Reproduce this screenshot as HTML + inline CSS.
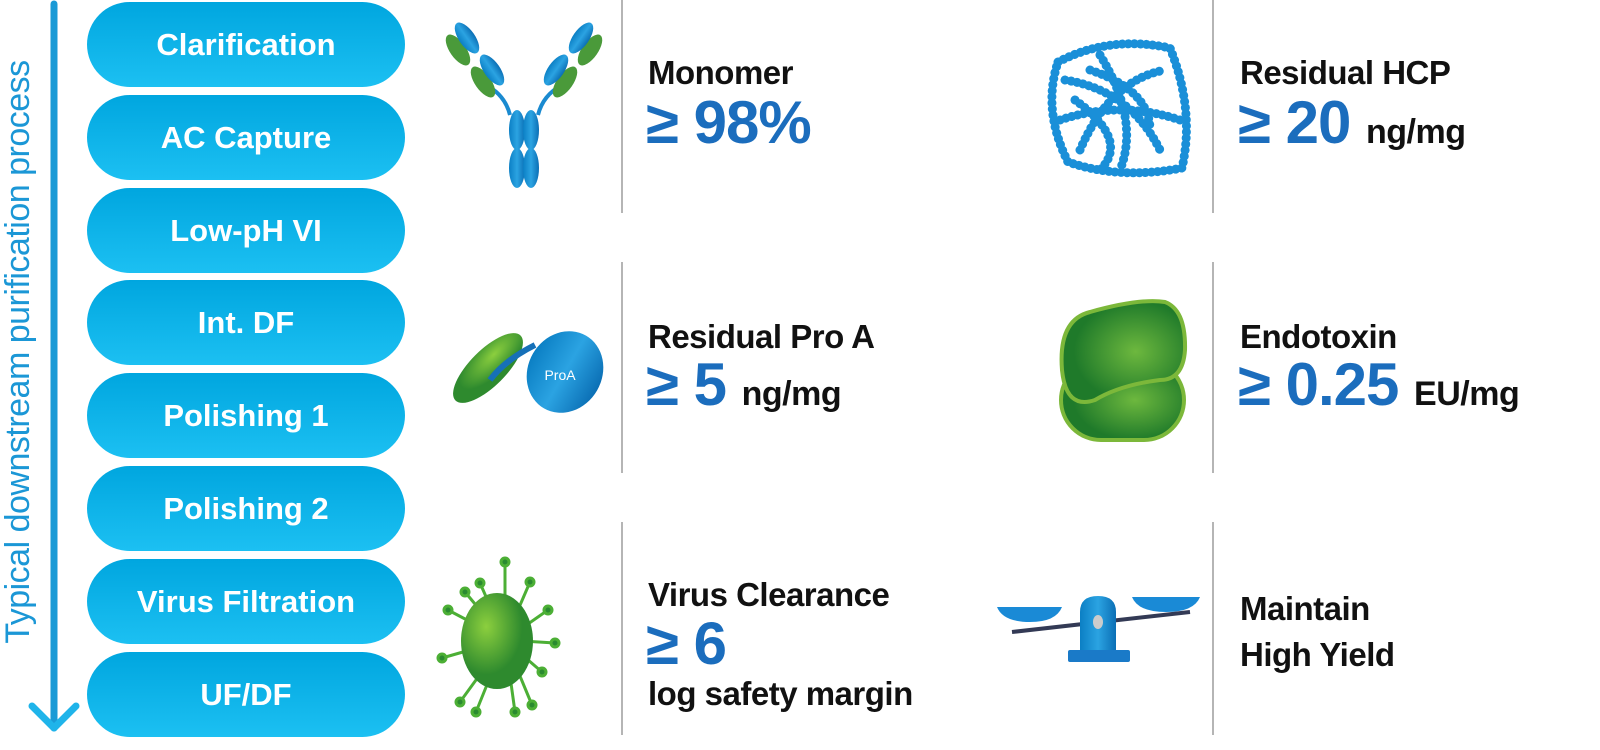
<!DOCTYPE html>
<html><head><meta charset="utf-8"><style>
body{margin:0;width:1600px;height:750px;background:#fff;position:relative;overflow:hidden;font-family:"Liberation Sans",sans-serif}
.pill{position:absolute;left:87px;width:318px;height:85px;border-radius:43px;background:linear-gradient(#00a6df,#1cc0f2);color:#fff;font-weight:bold;font-size:31px;text-align:center;line-height:85px}
.t{position:absolute;font-weight:bold;color:#111;white-space:nowrap;letter-spacing:-0.5px}
.h{font-size:33px}
.big{font-size:60px;color:#1b6dbd;letter-spacing:-1px}
.u{font-size:34px;color:#111;letter-spacing:-0.5px}
.div{position:absolute;width:2px;background:#b5b5b5}
</style></head><body>
<div style="position:absolute;left:-342px;top:330px;width:720px;height:44px;transform:rotate(-90deg);color:#1b97d6;font-size:34px;text-align:center;line-height:44px;white-space:nowrap;letter-spacing:-0.5px">Typical downstream purification process</div>
<svg style="position:absolute;left:0;top:0" width="90" height="750"><line x1="54" y1="4" x2="54" y2="728" stroke="#1a9ad6" stroke-width="7" stroke-linecap="round"/><polyline points="32,706 54,728 76,706" fill="none" stroke="#1fb4ea" stroke-width="7" stroke-linecap="round" stroke-linejoin="round"/></svg>
<div class="pill" style="top:2px">Clarification</div>
<div class="pill" style="top:95px">AC Capture</div>
<div class="pill" style="top:188px">Low-pH VI</div>
<div class="pill" style="top:280px">Int. DF</div>
<div class="pill" style="top:373px">Polishing 1</div>
<div class="pill" style="top:466px">Polishing 2</div>
<div class="pill" style="top:559px">Virus Filtration</div>
<div class="pill" style="top:652px">UF/DF</div>

<div class="div" style="left:621px;top:0;height:213px"></div>
<div class="div" style="left:621px;top:262px;height:211px"></div>
<div class="div" style="left:621px;top:522px;height:213px"></div>
<div class="div" style="left:1212px;top:0;height:213px"></div>
<div class="div" style="left:1212px;top:262px;height:211px"></div>
<div class="div" style="left:1212px;top:522px;height:213px"></div>

<div class="t h" style="left:648px;top:54px">Monomer</div>
<div class="t big" style="left:646px;top:88px">≥ 98%</div>
<div class="t h" style="left:648px;top:318px">Residual Pro A</div>
<div class="t big" style="left:646px;top:350px">≥ 5 <span class="u">ng/mg</span></div>
<div class="t h" style="left:648px;top:576px">Virus Clearance</div>
<div class="t big" style="left:646px;top:609px">≥ 6</div>
<div class="t h" style="left:648px;top:675px">log safety margin</div>
<div class="t h" style="left:1240px;top:54px">Residual HCP</div>
<div class="t big" style="left:1238px;top:88px">≥ 20 <span class="u">ng/mg</span></div>
<div class="t h" style="left:1240px;top:318px">Endotoxin</div>
<div class="t big" style="left:1238px;top:350px">≥ 0.25 <span class="u">EU/mg</span></div>
<div class="t h" style="left:1240px;top:590px">Maintain</div>
<div class="t h" style="left:1240px;top:636px">High Yield</div>

<svg style="position:absolute;left:0;top:0" width="1600" height="750">
<defs>
<linearGradient id="b" x1="0" x2="1"><stop offset="0" stop-color="#0b7fc4"/><stop offset=".5" stop-color="#2ba3e2"/><stop offset="1" stop-color="#0b6fb5"/></linearGradient>
<radialGradient id="g" cx=".35" cy=".35"><stop offset="0" stop-color="#8ccf3e"/><stop offset="1" stop-color="#2e8a2e"/></radialGradient>
<radialGradient id="e" cx=".6" cy=".5"><stop offset="0" stop-color="#6db83e"/><stop offset="1" stop-color="#1f7a2a"/></radialGradient>
</defs>
<!-- antibody -->
<path d="M486 85 Q505 95 510 115 M562 85 Q543 95 538 115" fill="none" stroke="#1a8ad0" stroke-width="4"/>
<g fill="#4a9a3a">
<ellipse cx="458" cy="50" rx="8" ry="18" transform="rotate(-35 458 50)"/>
<ellipse cx="483" cy="82" rx="8" ry="18" transform="rotate(-35 483 82)"/>
<ellipse cx="590" cy="50" rx="8" ry="18" transform="rotate(35 590 50)"/>
<ellipse cx="565" cy="82" rx="8" ry="18" transform="rotate(35 565 82)"/>
</g>
<g fill="url(#b)">
<ellipse cx="467" cy="38" rx="8" ry="18" transform="rotate(-35 467 38)"/>
<ellipse cx="492" cy="70" rx="8" ry="18" transform="rotate(-35 492 70)"/>
<ellipse cx="581" cy="38" rx="8" ry="18" transform="rotate(35 581 38)"/>
<ellipse cx="556" cy="70" rx="8" ry="18" transform="rotate(35 556 70)"/>
<ellipse cx="517" cy="130" rx="8" ry="20"/>
<ellipse cx="531" cy="130" rx="8" ry="20"/>
<ellipse cx="517" cy="168" rx="8" ry="20"/>
<ellipse cx="531" cy="168" rx="8" ry="20"/>
</g>
<!-- HCP -->
<g fill="none" stroke="#1a8fd8" stroke-width="9" stroke-dasharray="0.1 6" stroke-linecap="round">
<path d="M1058 62 Q1110 35 1170 48 Q1195 110 1182 168 Q1120 180 1068 162 Q1042 110 1058 62 Z"/>
<path d="M1065 80 Q1130 90 1160 150 M1080 150 Q1110 80 1165 70 M1100 55 Q1140 120 1120 170 M1060 120 Q1120 100 1180 120 M1075 100 Q1130 140 1100 170 M1090 70 Q1150 90 1150 130"/>
</g>
<!-- ProA -->
<ellipse cx="488" cy="368" rx="18" ry="46" transform="rotate(45 488 368)" fill="url(#g)"/>
<path d="M490 380 Q505 360 535 345" stroke="#1670b8" stroke-width="6" fill="none"/>
<ellipse cx="565" cy="372" rx="37" ry="42" transform="rotate(30 565 372)" fill="url(#b)"/>
<text x="560" y="380" font-size="14" fill="#fff" text-anchor="middle" font-family="Liberation Sans">ProA</text>
<!-- endotoxin -->
<rect x="1061" y="360" width="123" height="80" rx="40" fill="url(#e)" stroke="#7cb83a" stroke-width="4"/>
<path d="M1062 370 Q1058 320 1090 312 Q1140 298 1165 302 Q1186 310 1185 350 Q1183 380 1160 380 Q1120 385 1095 400 Q1066 410 1062 370Z" fill="url(#e)" stroke="#7cb83a" stroke-width="4"/>
<!-- virus -->
<g stroke="#4caf35" stroke-width="3" fill="#2a8a30">
<line x1="505" y1="640" x2="505" y2="562"/><circle cx="505" cy="562" r="4"/>
<line x1="505" y1="640" x2="530" y2="582"/><circle cx="530" cy="582" r="4"/>
<line x1="505" y1="640" x2="548" y2="610"/><circle cx="548" cy="610" r="4"/>
<line x1="505" y1="640" x2="555" y2="643"/><circle cx="555" cy="643" r="4"/>
<line x1="505" y1="640" x2="542" y2="672"/><circle cx="542" cy="672" r="4"/>
<line x1="505" y1="640" x2="515" y2="712"/><circle cx="515" cy="712" r="4"/>
<line x1="505" y1="640" x2="476" y2="712"/><circle cx="476" cy="712" r="4"/>
<line x1="505" y1="640" x2="460" y2="702"/><circle cx="460" cy="702" r="4"/>
<line x1="505" y1="640" x2="442" y2="658"/><circle cx="442" cy="658" r="4"/>
<line x1="505" y1="640" x2="448" y2="610"/><circle cx="448" cy="610" r="4"/>
<line x1="505" y1="640" x2="465" y2="592"/><circle cx="465" cy="592" r="4"/>
<line x1="505" y1="640" x2="480" y2="583"/><circle cx="480" cy="583" r="4"/>
<line x1="505" y1="640" x2="532" y2="705"/><circle cx="532" cy="705" r="4"/>
</g>
<ellipse cx="497" cy="641" rx="36" ry="48" fill="url(#g)"/>
<!-- scale -->
<line x1="1012" y1="632" x2="1190" y2="612" stroke="#333a55" stroke-width="4"/>
<path d="M997 607 L1062 607 Q1056 622 1030 622 Q1003 622 997 607Z" fill="#1a8ad6"/>
<path d="M1132 597 L1200 597 Q1194 612 1166 612 Q1138 612 1132 597Z" fill="#1a8ad6"/>
<path d="M1080 655 L1080 612 Q1080 596 1098 596 Q1116 596 1116 612 L1116 655Z" fill="url(#b)"/>
<rect x="1068" y="650" width="62" height="12" rx="2" fill="#1a7ac8"/>
<ellipse cx="1098" cy="622" rx="5" ry="7" fill="#ccc"/>
</svg>
</body></html>
